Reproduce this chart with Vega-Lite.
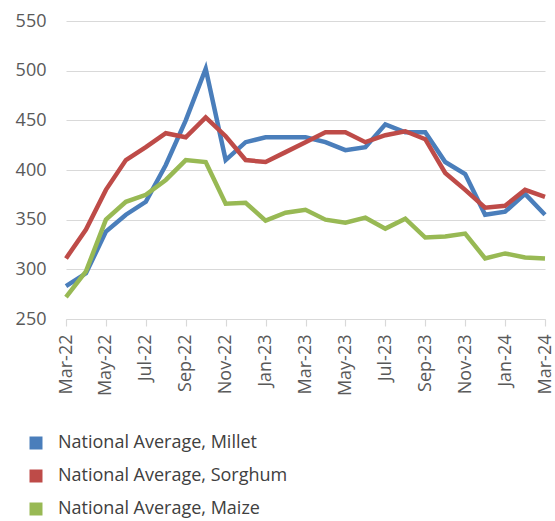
{
  "$schema": "https://vega.github.io/schema/vega-lite/v6.json",
  "autosize": {"type": "none"},
  "width": 479,
  "height": 298,
  "padding": {"left": 66, "top": 21, "right": 10, "bottom": 202},
  "background": "white",
  "config": {
    "view": {"stroke": null},
    "font": "Open Sans",
    "axis": {"labelFont": "Open Sans", "labelColor": "#595959", "labelFontSize": 18}
  },
  "data": {
    "values": [
      {"month": "Mar-22", "series": "National Average, Millet", "value": 283},
      {"month": "Apr-22", "series": "National Average, Millet", "value": 296},
      {"month": "May-22", "series": "National Average, Millet", "value": 338},
      {"month": "Jun-22", "series": "National Average, Millet", "value": 355},
      {"month": "Jul-22", "series": "National Average, Millet", "value": 368},
      {"month": "Aug-22", "series": "National Average, Millet", "value": 405},
      {"month": "Sep-22", "series": "National Average, Millet", "value": 450},
      {"month": "Oct-22", "series": "National Average, Millet", "value": 502},
      {"month": "Nov-22", "series": "National Average, Millet", "value": 410},
      {"month": "Dec-22", "series": "National Average, Millet", "value": 428},
      {"month": "Jan-23", "series": "National Average, Millet", "value": 433},
      {"month": "Feb-23", "series": "National Average, Millet", "value": 433},
      {"month": "Mar-23", "series": "National Average, Millet", "value": 433},
      {"month": "Apr-23", "series": "National Average, Millet", "value": 428},
      {"month": "May-23", "series": "National Average, Millet", "value": 420},
      {"month": "Jun-23", "series": "National Average, Millet", "value": 423},
      {"month": "Jul-23", "series": "National Average, Millet", "value": 446},
      {"month": "Aug-23", "series": "National Average, Millet", "value": 438},
      {"month": "Sep-23", "series": "National Average, Millet", "value": 438},
      {"month": "Oct-23", "series": "National Average, Millet", "value": 408},
      {"month": "Nov-23", "series": "National Average, Millet", "value": 396},
      {"month": "Dec-23", "series": "National Average, Millet", "value": 355},
      {"month": "Jan-24", "series": "National Average, Millet", "value": 358},
      {"month": "Feb-24", "series": "National Average, Millet", "value": 376},
      {"month": "Mar-24", "series": "National Average, Millet", "value": 355},
      {"month": "Mar-22", "series": "National Average, Sorghum", "value": 311},
      {"month": "Apr-22", "series": "National Average, Sorghum", "value": 340},
      {"month": "May-22", "series": "National Average, Sorghum", "value": 380},
      {"month": "Jun-22", "series": "National Average, Sorghum", "value": 410},
      {"month": "Jul-22", "series": "National Average, Sorghum", "value": 423},
      {"month": "Aug-22", "series": "National Average, Sorghum", "value": 437},
      {"month": "Sep-22", "series": "National Average, Sorghum", "value": 433},
      {"month": "Oct-22", "series": "National Average, Sorghum", "value": 453},
      {"month": "Nov-22", "series": "National Average, Sorghum", "value": 434},
      {"month": "Dec-22", "series": "National Average, Sorghum", "value": 410},
      {"month": "Jan-23", "series": "National Average, Sorghum", "value": 408},
      {"month": "Feb-23", "series": "National Average, Sorghum", "value": 418},
      {"month": "Mar-23", "series": "National Average, Sorghum", "value": 428},
      {"month": "Apr-23", "series": "National Average, Sorghum", "value": 438},
      {"month": "May-23", "series": "National Average, Sorghum", "value": 438},
      {"month": "Jun-23", "series": "National Average, Sorghum", "value": 428},
      {"month": "Jul-23", "series": "National Average, Sorghum", "value": 435},
      {"month": "Aug-23", "series": "National Average, Sorghum", "value": 439},
      {"month": "Sep-23", "series": "National Average, Sorghum", "value": 431},
      {"month": "Oct-23", "series": "National Average, Sorghum", "value": 397},
      {"month": "Nov-23", "series": "National Average, Sorghum", "value": 380},
      {"month": "Dec-23", "series": "National Average, Sorghum", "value": 362},
      {"month": "Jan-24", "series": "National Average, Sorghum", "value": 364},
      {"month": "Feb-24", "series": "National Average, Sorghum", "value": 380},
      {"month": "Mar-24", "series": "National Average, Sorghum", "value": 373},
      {"month": "Mar-22", "series": "National Average, Maize", "value": 272},
      {"month": "Apr-22", "series": "National Average, Maize", "value": 298},
      {"month": "May-22", "series": "National Average, Maize", "value": 350},
      {"month": "Jun-22", "series": "National Average, Maize", "value": 368},
      {"month": "Jul-22", "series": "National Average, Maize", "value": 375},
      {"month": "Aug-22", "series": "National Average, Maize", "value": 390},
      {"month": "Sep-22", "series": "National Average, Maize", "value": 410},
      {"month": "Oct-22", "series": "National Average, Maize", "value": 408},
      {"month": "Nov-22", "series": "National Average, Maize", "value": 366},
      {"month": "Dec-22", "series": "National Average, Maize", "value": 367},
      {"month": "Jan-23", "series": "National Average, Maize", "value": 349},
      {"month": "Feb-23", "series": "National Average, Maize", "value": 357},
      {"month": "Mar-23", "series": "National Average, Maize", "value": 360},
      {"month": "Apr-23", "series": "National Average, Maize", "value": 350},
      {"month": "May-23", "series": "National Average, Maize", "value": 347},
      {"month": "Jun-23", "series": "National Average, Maize", "value": 352},
      {"month": "Jul-23", "series": "National Average, Maize", "value": 341},
      {"month": "Aug-23", "series": "National Average, Maize", "value": 351},
      {"month": "Sep-23", "series": "National Average, Maize", "value": 332},
      {"month": "Oct-23", "series": "National Average, Maize", "value": 333},
      {"month": "Nov-23", "series": "National Average, Maize", "value": 336},
      {"month": "Dec-23", "series": "National Average, Maize", "value": 311},
      {"month": "Jan-24", "series": "National Average, Maize", "value": 316},
      {"month": "Feb-24", "series": "National Average, Maize", "value": 312},
      {"month": "Mar-24", "series": "National Average, Maize", "value": 311}
    ]
  },
  "mark": {"type": "line", "strokeWidth": 4.5, "strokeJoin": "miter"},
  "encoding": {
    "x": {
      "field": "month",
      "type": "ordinal",
      "title": null,
      "scale": {
        "type": "point",
        "padding": 0,
        "domain": ["Mar-22","Apr-22","May-22","Jun-22","Jul-22","Aug-22","Sep-22","Oct-22","Nov-22","Dec-22","Jan-23","Feb-23","Mar-23","Apr-23","May-23","Jun-23","Jul-23","Aug-23","Sep-23","Oct-23","Nov-23","Dec-23","Jan-24","Feb-24","Mar-24"]
      },
      "axis": {
        "values": ["Mar-22","May-22","Jul-22","Sep-22","Nov-22","Jan-23","Mar-23","May-23","Jul-23","Sep-23","Nov-23","Jan-24","Mar-24"],
        "labelAngle": -90,
        "labelAlign": "right",
        "labelBaseline": "middle",
        "labelPadding": 8,
        "domainColor": "#d9d9d9",
        "domainWidth": 1.2,
        "tickColor": "#d9d9d9",
        "tickWidth": 1.2,
        "tickSize": 7,
        "grid": false
      }
    },
    "y": {
      "field": "value",
      "type": "quantitative",
      "title": null,
      "scale": {"domain": [250, 550], "nice": false, "zero": false},
      "axis": {
        "values": [250, 300, 350, 400, 450, 500, 550],
        "domain": false,
        "ticks": false,
        "labelPadding": 20,
        "gridColor": "#d9d9d9",
        "gridWidth": 1.2
      }
    },
    "color": {
      "field": "series",
      "type": "nominal",
      "title": null,
      "scale": {
        "domain": ["National Average, Millet", "National Average, Sorghum", "National Average, Maize"],
        "range": ["#4a7ebb", "#be4b48", "#98b954"]
      },
      "legend": {
        "orient": "none",
        "direction": "vertical",
        "legendX": -39,
        "legendY": 413,
        "symbolType": "square",
        "symbolSize": 169,
        "symbolStrokeWidth": 0,
        "labelFontSize": 18,
        "labelFont": "Open Sans",
        "labelColor": "#404040",
        "labelOffset": 13,
        "rowPadding": 15,
        "labelLimit": 400,
        "encode": {
          "symbols": {
            "update": {
              "fill": {"scale": "color", "field": "value"},
              "fillOpacity": {"value": 1},
              "strokeWidth": {"value": 0}
            }
          }
        }
      }
    }
  }
}
